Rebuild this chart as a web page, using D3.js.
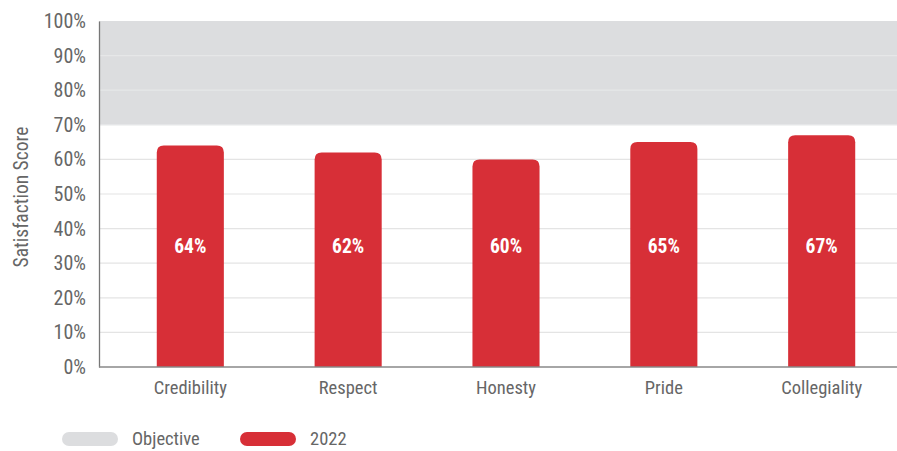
<!DOCTYPE html>
<meta charset="utf-8">
<style>
  body { margin: 0; background: #fff; }
  text { font-family: "Liberation Sans Narrow", "Roboto Condensed", Roboto, sans-serif; }
  .tick text { fill: #666; }
</style>
<body>
<div id="chart"></div>
<script src="https://d3js.org/d3.v7.min.js"></script>
<script>
  // data
  var categories = ["Credibility", "Respect", "Honesty", "Pride", "Collegiality"];
  var scores = [64, 62, 60, 65, 67];
  var objective = [70, 100];
  var yTicks = [0, 10, 20, 30, 40, 50, 60, 70, 80, 90, 100];
  var legendItems = ["Objective", "2022"];

  var width = 897, height = 451;
  var plotLeft = 99, plotRight = 897, plotTop = 21, plotBottom = 367;
  var red = "#d72f37", grey = "#dcdddf";

  var svg = d3.select("#chart").append("svg")
    .attr("width", width).attr("height", height);

  var x = d3.scaleBand().domain(categories).range([111, 901]).paddingInner(0.575).paddingOuter(0.29);
  var y = d3.scaleLinear().domain([0, 100]).range([plotBottom, plotTop]);

  // objective band
  svg.append("rect")
    .attr("x", plotLeft).attr("width", plotRight - plotLeft)
    .attr("y", y(objective[1])).attr("height", y(objective[0]) - y(objective[1]))
    .attr("fill", grey);

  // gridlines
  svg.append("g").selectAll("line")
    .data(yTicks.filter(d => d > 0 && d < 100))
    .join("line")
    .attr("x1", plotLeft).attr("x2", plotRight)
    .attr("y1", d => y(d)).attr("y2", d => y(d))
    .attr("stroke", d => d >= objective[0] ? "#e6e7e8" : "#e4e4e4")
    .attr("stroke-width", 1.2);

  // bars with rounded tops
  var r = 7;
  svg.append("g").selectAll("path")
    .data(categories)
    .join("path")
    .attr("fill", red)
    .attr("d", function (d, i) {
      var x0 = x(d), w = x.bandwidth(), y0 = y(scores[i]), y1 = y(0);
      return "M" + x0 + "," + y1 + "V" + (y0 + r) +
        "Q" + x0 + "," + y0 + " " + (x0 + r) + "," + y0 +
        "H" + (x0 + w - r) +
        "Q" + (x0 + w) + "," + y0 + " " + (x0 + w) + "," + (y0 + r) +
        "V" + y1 + "Z";
    });

  // value labels
  svg.append("g").selectAll("text")
    .data(categories)
    .join("text")
    .attr("x", d => x(d) + x.bandwidth() / 2)
    .attr("y", y(35))
    .attr("dy", "0.35em")
    .attr("text-anchor", "middle")
    .attr("fill", "#fff")
    .attr("font-weight", "bold")
    .attr("font-size", 19.5)
    .text((d, i) => scores[i] + "%");

  // y axis
  var yAxis = svg.append("g")
    .attr("transform", "translate(" + plotLeft + ",0)")
    .call(d3.axisLeft(y).tickValues(yTicks).tickFormat(d => d + "%").tickSize(0).tickPadding(13));
  yAxis.select(".domain").attr("stroke", "#777").attr("stroke-width", 1.3);
  yAxis.selectAll(".tick text").attr("font-size", 20);

  // x axis
  var xAxis = svg.append("g")
    .attr("transform", "translate(0," + plotBottom + ")")
    .call(d3.axisBottom(x).tickSize(0).tickPadding(14));
  xAxis.select(".domain").attr("d", "M" + plotLeft + ",0H" + plotRight).attr("stroke", "#888").attr("stroke-width", 1.3);
  xAxis.selectAll(".tick text").attr("fill", "#555").attr("font-size", 18.5);

  // y title
  svg.append("text")
    .attr("transform", "translate(28," + 197 + ") rotate(-90)")
    .attr("text-anchor", "middle")
    .attr("fill", "#666")
    .attr("font-size", 19.5)
    .text("Satisfaction Score");

  // legend
  var legendX = [62, 240];
  var lg = svg.append("g").selectAll("g")
    .data(legendItems)
    .join("g")
    .attr("transform", (d, i) => "translate(" + legendX[i] + ",439)");
  lg.append("rect")
    .attr("x", 0).attr("y", -7).attr("width", 56).attr("height", 14).attr("rx", 7)
    .attr("fill", (d, i) => i === 0 ? grey : red);
  lg.append("text")
    .attr("x", 70).attr("dy", "0.35em")
    .attr("fill", "#666").attr("font-size", 18.5)
    .text(d => d);
</script>
</body>
